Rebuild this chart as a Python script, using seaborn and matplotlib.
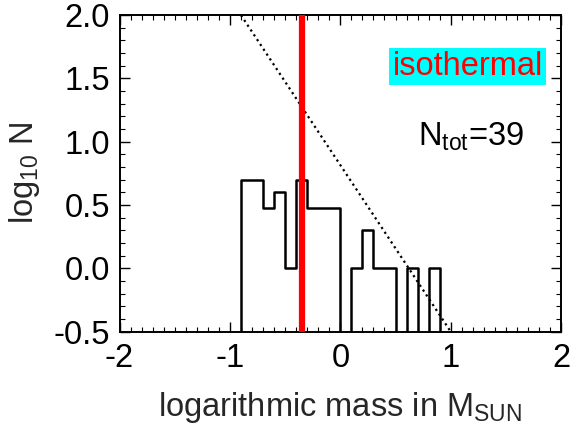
"""
Mass function histogram (log10 N vs logarithmic mass), isothermal case
"""
import numpy as np
import matplotlib.pyplot as plt
import seaborn as sns
from matplotlib.ticker import MultipleLocator

# bin edges of the histogram (log mass, 0.1 dex bins)
bin_edges = [-0.9, -0.8, -0.7, -0.6, -0.5, -0.4, -0.3, -0.2, -0.1, 0.0,
             0.1, 0.2, 0.3, 0.4, 0.5, 0.6, 0.7, 0.8, 0.9]
# log10 of counts per bin; empty bins sit below the plot (-1)
log_counts = [0.70, 0.70, 0.48, 0.60, 0.0, 0.70, 0.48, 0.48, 0.48,
              -1.0, 0.0, 0.30, 0.0, 0.0, -1.0, 0.0, -1.0, 0.0]
n_total = 39

# reference slope line (dotted)
ref_x = [-0.9, 1.0]
ref_y = [2.0, -0.5]

# vertical marker (red)
marker_x = -0.35

sns.set_style("ticks")
plt.rcParams['font.family'] = ['Liberation Sans', 'DejaVu Sans']
plt.rcParams['mathtext.fontset'] = 'custom'
plt.rcParams['mathtext.rm'] = 'Liberation Sans'
plt.rcParams['mathtext.it'] = 'Liberation Sans'

fig = plt.figure(figsize=(5.72, 4.33), dpi=100)
ax = fig.add_axes([0.209, 0.234, 0.772, 0.731])

# histogram outline as steps
step_x = [bin_edges[0]] + bin_edges + [bin_edges[-1]]
step_y = [-1.0] + log_counts + [log_counts[-1], -1.0]
sns.lineplot(x=step_x, y=step_y, drawstyle='steps-post', sort=False,
             estimator=None, color='black', linewidth=1.8, ax=ax)

sns.lineplot(x=ref_x, y=ref_y, sort=False, estimator=None, color='black',
             linestyle=(0, (1, 1.6)), linewidth=1.6, ax=ax)

ax.axvline(marker_x, color='red', linewidth=4.5, zorder=3)

ax.set_xlim(-2, 2)
ax.set_ylim(-0.5, 2.0)
ax.xaxis.set_major_locator(MultipleLocator(1))
ax.xaxis.set_minor_locator(MultipleLocator(0.1))
ax.yaxis.set_major_locator(MultipleLocator(0.5))
ax.yaxis.set_minor_locator(MultipleLocator(0.1))
ax.yaxis.set_major_formatter(lambda v, p: f"{v:.1f}")
ax.xaxis.set_major_formatter(lambda v, p: f"{v:.0f}")

fs = 23.5
ax.tick_params(which='both', direction='in', top=True, right=True,
               labelsize=fs, colors='black')
ax.tick_params(which='major', length=7, width=1.0)
ax.tick_params(which='minor', length=3.5, width=0.8)
ax.tick_params(axis='y', pad=7)
ax.tick_params(axis='x', pad=8)
for sp in ax.spines.values():
    sp.set_linewidth(1.4)
    sp.set_color('black')

ax.set_xlabel(r'logarithmic mass in M$_{\mathrm{SUN}}$', fontsize=fs, labelpad=12)
ax.set_ylabel(r'log$_{10}$ N', fontsize=fs, labelpad=8)

ax.text(0.788, 0.838, 'isothermal', transform=ax.transAxes, fontsize=fs,
        color='red', ha='center', va='center',
        bbox=dict(facecolor='cyan', edgecolor='none', pad=2))
ax.text(0.795, 0.615, r'N$_{\mathrm{tot}}$=' + str(n_total), transform=ax.transAxes,
        fontsize=fs, color='black', ha='center', va='center')

fig.savefig('out.png', dpi=100)
